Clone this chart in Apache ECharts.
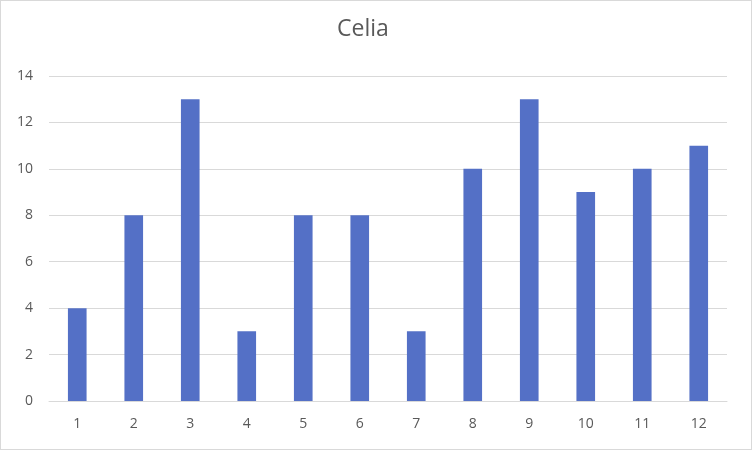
<!DOCTYPE html>
<html>
<head>
<meta charset="utf-8">
<script src="https://cdn.jsdelivr.net/npm/echarts@6/dist/echarts.min.js"></script>
<style>
  html, body { margin: 0; padding: 0; background: #fff; }
  #chart { width: 752px; height: 450px; box-sizing: border-box; border: 1px solid #d9d9d9; }
</style>
</head>
<body>
<div id="chart"></div>
<script>
// 数据
var categories = ['1', '2', '3', '4', '5', '6', '7', '8', '9', '10', '11', '12'];
var celiaValues = [4, 8, 13, 3, 8, 8, 3, 10, 13, 9, 10, 11];
var titleText = 'Celia';

var chart = echarts.init(document.getElementById('chart'));
var option = {
  animation: false,
  title: {
    text: titleText,
    left: 336,
    top: 17,
    padding: 0,
    textStyle: { fontFamily: 'Open Sans', fontSize: 23, fontWeight: 'normal', color: '#595959' }
  },
  grid: { left: 48, right: 24, top: 75, bottom: 48, containLabel: false },
  xAxis: {
    type: 'category',
    data: categories,
    axisLine: { lineStyle: { color: '#d9d9d9', width: 1 } },
    axisTick: { show: false },
    axisLabel: { color: '#595959', fontFamily: 'Open Sans', fontSize: 14, margin: 16 }
  },
  yAxis: {
    type: 'value',
    min: 0,
    max: 14,
    interval: 2,
    axisLine: { show: false },
    axisTick: { show: false },
    axisLabel: { color: '#595959', fontFamily: 'Open Sans', fontSize: 14, margin: 16 },
    splitLine: { lineStyle: { color: '#d9d9d9', width: 1 } }
  },
  series: [{
    name: titleText,
    type: 'bar',
    data: celiaValues,
    barWidth: '33%',
    itemStyle: { color: '#5470c6' }
  }]
};
chart.setOption(option);
</script>
</body>
</html>
